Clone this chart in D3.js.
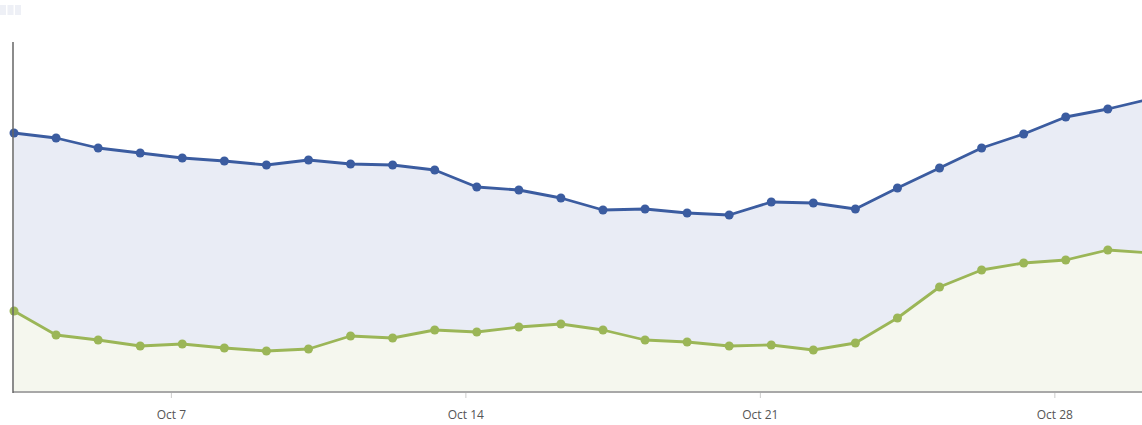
<!DOCTYPE html>
<html>
<head>
<meta charset="utf-8">
<script src="https://cdn.jsdelivr.net/npm/d3@7"></script>
<style>
  body { margin: 0; background: #fff; overflow: hidden; }
  svg { display: block; }
  .tick text { font-family: "Open Sans", sans-serif; font-size: 12px; fill: #555; }
</style>
</head>
<body>
<svg id="chart"></svg>
<script>
const width = 1142;
const height = 425;

// one point per day, Oct 3 .. Oct 30
const days = d3.range(28).map(i => d3.timeHour.offset(new Date(2012, 9, 3, 6, 30), i * 24));

const reach = [259, 254, 244, 239, 234, 231, 227, 232, 228, 227, 222, 205, 202, 194,
               182, 183, 179, 177, 190, 189, 183, 204, 224, 244, 258, 275, 283, 293];
const engaged = [81, 57, 52, 46, 48, 44, 41, 43, 56, 54, 62, 60, 65, 68,
                 62, 52, 50, 46, 47, 42, 49, 74, 105, 122, 129, 132, 142, 139];

const tickDates = [new Date(2012, 9, 7), new Date(2012, 9, 14), new Date(2012, 9, 21), new Date(2012, 9, 28)];

const svg = d3.select('#chart').attr('width', width).attr('height', height);

const dayWidth = 42.07;
const x = d3.scaleTime()
    .domain([days[0], days[days.length - 1]])
    .range([14, 14 + dayWidth * (days.length - 1)]);

const y = d3.scaleLinear().domain([0, 350]).range([392, 42]);

// faint boxes top-left
svg.selectAll('rect.stub').data([0, 1, 2]).enter().append('rect')
    .attr('class', 'stub')
    .attr('x', d => d * 7.5)
    .attr('y', 5)
    .attr('width', 6)
    .attr('height', 10)
    .attr('fill', '#eef0f6');

const series = [
    { values: reach, line: '#3b5ca0', fill: '#e9ecf5' },
    { values: engaged, line: '#9bb657', fill: '#f5f7ee' }
];

const area = d3.area()
    .x((d, i) => x(days[i]))
    .y0(y(0))
    .y1(d => y(d));

const line = d3.line()
    .x((d, i) => x(days[i]))
    .y(d => y(d));

series.forEach(s => {
    svg.append('path')
        .datum(s.values)
        .attr('fill', s.fill)
        .attr('d', area);
});

series.forEach(s => {
    svg.append('path')
        .datum(s.values)
        .attr('fill', 'none')
        .attr('stroke', s.line)
        .attr('stroke-width', 2.8)
        .attr('stroke-linejoin', 'round')
        .attr('d', line);

    svg.append('g').selectAll('circle')
        .data(s.values)
        .enter().append('circle')
        .attr('cx', (d, i) => x(days[i]))
        .attr('cy', d => y(d))
        .attr('r', 4.5)
        .attr('fill', s.line);
});

const xAxis = svg.append('g')
    .attr('transform', `translate(0, ${y(0)})`)
    .call(d3.axisBottom(x)
        .tickValues(tickDates)
        .tickFormat(d3.timeFormat('%b %-d'))
        .tickSize(6)
        .tickPadding(12));
xAxis.select('.domain')
    .attr('d', `M13,0H${width}`)
    .attr('stroke', '#a8a8a8')
    .attr('stroke-width', 2);
xAxis.selectAll('.tick line').attr('stroke', '#ccc').attr('y1', 1);

svg.append('line')
    .attr('x1', 13).attr('x2', 13)
    .attr('y1', 42).attr('y2', y(0) + 1)
    .attr('stroke', '#666')
    .attr('stroke-width', 1.5);
</script>
</body>
</html>
